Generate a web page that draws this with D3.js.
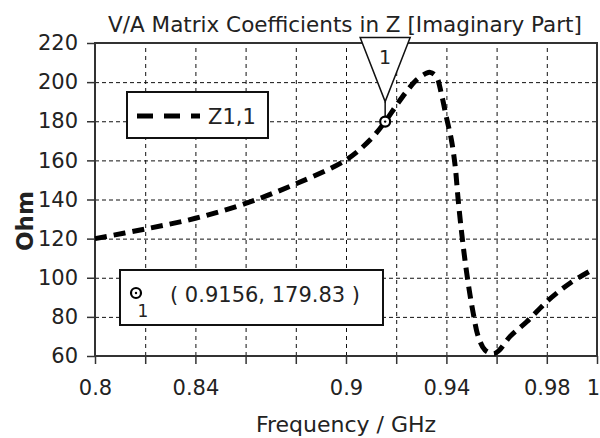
<!DOCTYPE html>
<html>
<head>
<meta charset="utf-8">
<script src="https://cdn.jsdelivr.net/npm/d3@7"></script>
<style>
  body { margin: 0; background: #fff; }
  svg { display: block; }
  text { font-family: "DejaVu Sans", Verdana, sans-serif; fill: #222; }
</style>
</head>
<body>
<div id="chart"></div>
<script>
// data
var freq = [0.8, 0.82, 0.84, 0.86, 0.88, 0.9, 0.91, 0.9156, 0.92, 0.924, 0.928, 0.932, 0.9335,
            0.936, 0.938, 0.940, 0.942, 0.9435, 0.9447, 0.9461, 0.9474, 0.9491, 0.9507, 0.9527,
            0.9554, 0.9587, 0.9607, 0.9653, 0.972, 0.98, 0.9892, 0.998];
var zImag = [120, 124.9, 130.4, 138, 148, 160.2, 171, 179.83, 188, 195, 201, 204.5, 205,
             202.8, 194, 182, 170.4, 157, 139.7, 122.7, 109, 93.7, 81.8, 69.9,
             63, 61.2, 62.5, 69.9, 77.5, 87.8, 97.2, 104];
var xGridTicks = [0.8, 0.82, 0.84, 0.86, 0.88, 0.9, 0.92, 0.94, 0.96, 0.98, 1.0];
var xLabelTicks = [0.8, 0.84, 0.9, 0.94, 0.98, 1];
var yTicks = [60, 80, 100, 120, 140, 160, 180, 200, 220];
var markerFreq = 0.9156;
var markerValue = 179.83;
var seriesName = "Z1,1";
var titleText = "V/A Matrix Coefficients in Z [Imaginary Part]";

var width = 600, height = 438;
var margin = {top: 43, right: 3, bottom: 82, left: 95};
var chartWidth = width - margin.left - margin.right;
var chartHeight = height - margin.top - margin.bottom;

var data = freq.map(function (f, i) { return {f: f, v: zImag[i]}; });

var svg = d3.select("#chart").append("svg")
    .attr("width", width)
    .attr("height", height);

var xScale = d3.scaleLinear().domain([0.8, 1.0]).range([0, chartWidth]);
var yScale = d3.scaleLinear().domain([60, 220]).range([chartHeight, 0]);

var viz = svg.append("g")
    .attr("transform", "translate(" + margin.left + "," + margin.top + ")");

// grid
var xGrid = d3.axisBottom(xScale).tickValues(xGridTicks).tickSize(-chartHeight).tickFormat("");
var yGrid = d3.axisLeft(yScale).tickValues(yTicks).tickSize(-chartWidth).tickFormat("");

viz.append("g").attr("transform", "translate(0," + chartHeight + ")").call(xGrid)
    .call(function (g) {
      g.select(".domain").remove();
      g.selectAll(".tick line").attr("stroke", "#111").attr("stroke-dasharray", "4,4");
    });
viz.append("g").call(yGrid)
    .call(function (g) {
      g.select(".domain").remove();
      g.selectAll(".tick line").attr("stroke", "#111").attr("stroke-dasharray", "4,3");
    });

// outer ticks
viz.append("g").attr("transform", "translate(0," + chartHeight + ")")
    .call(d3.axisBottom(xScale).tickValues(xGridTicks).tickSize(8).tickFormat(""))
    .call(function (g) {
      g.select(".domain").remove();
      g.selectAll(".tick line").attr("stroke", "#333").attr("stroke-width", 1.5);
    });
viz.append("g")
    .call(d3.axisLeft(yScale).tickValues(yTicks).tickSize(8).tickFormat(""))
    .call(function (g) {
      g.select(".domain").remove();
      g.selectAll(".tick line").attr("stroke", "#333").attr("stroke-width", 1.5);
    });

// tick labels
viz.append("g").attr("transform", "translate(0," + chartHeight + ")")
    .call(d3.axisBottom(xScale).tickValues(xLabelTicks).tickSize(0).tickPadding(24)
      .tickFormat(function (d) { return String(d); }))
    .call(function (g) {
      g.select(".domain").remove();
      g.selectAll(".tick text").attr("font-size", "21px").attr("fill", "#222")
        .attr("font-family", "DejaVu Sans, Verdana, sans-serif");
      // last label sits on the right edge, nudge it inside
      g.selectAll(".tick text").filter(function (d) { return d === 1; }).attr("dx", "-4");
    });
viz.append("g")
    .call(d3.axisLeft(yScale).tickValues(yTicks).tickSize(0).tickPadding(17)
      .tickFormat(function (d) { return String(d); }))
    .call(function (g) {
      g.select(".domain").remove();
      g.selectAll(".tick text").attr("font-size", "21px").attr("fill", "#222")
        .attr("font-family", "DejaVu Sans, Verdana, sans-serif");
    });

// frame
viz.append("rect")
    .attr("width", chartWidth)
    .attr("height", chartHeight)
    .attr("fill", "none")
    .attr("stroke", "#333")
    .attr("stroke-width", 2);

// curve
var line = d3.line()
    .x(function (d) { return xScale(d.f); })
    .y(function (d) { return yScale(d.v); })
    .curve(d3.curveCatmullRom.alpha(0.5));

viz.append("path")
    .datum(data)
    .attr("d", line)
    .attr("fill", "none")
    .attr("stroke", "#000")
    .attr("stroke-width", 5)
    .attr("stroke-dasharray", "12,7");

// marker on curve + triangle label
var mx = xScale(markerFreq), my = yScale(markerValue);
viz.append("line")
    .attr("x1", mx).attr("y1", my - 20).attr("x2", mx).attr("y2", my)
    .attr("stroke", "#111").attr("stroke-width", 1.5);
viz.append("path")
    .attr("d", "M" + (mx - 25) + "," + (my - 84) + "L" + (mx + 25) + "," + (my - 84) + "L" + mx + "," + (my - 20) + "Z")
    .attr("fill", "#fff").attr("stroke", "#111").attr("stroke-width", 1.5);
viz.append("text")
    .attr("x", mx).attr("y", my - 58)
    .attr("text-anchor", "middle")
    .attr("font-size", "19px")
    .text("1");
viz.append("circle")
    .attr("cx", mx).attr("cy", my).attr("r", 5)
    .attr("fill", "#fff").attr("stroke", "#000").attr("stroke-width", 2.2);
viz.append("circle")
    .attr("cx", mx).attr("cy", my).attr("r", 1.2).attr("fill", "#000");

// legend
var legend = svg.append("g").attr("transform", "translate(127,92)");
legend.append("rect")
    .attr("width", 141).attr("height", 46)
    .attr("fill", "#fff").attr("stroke", "#111").attr("stroke-width", 2);
legend.append("line")
    .attr("x1", 10).attr("x2", 73).attr("y1", 24).attr("y2", 24)
    .attr("stroke", "#000").attr("stroke-width", 5).attr("stroke-dasharray", "16,11");
legend.append("text")
    .attr("x", 81).attr("y", 32)
    .attr("font-size", "21px")
    .text(seriesName);

// marker readout box
var readout = svg.append("g").attr("transform", "translate(120,270)");
readout.append("rect")
    .attr("width", 263).attr("height", 55)
    .attr("fill", "#fff").attr("stroke", "#111").attr("stroke-width", 2);
readout.append("circle")
    .attr("cx", 16).attr("cy", 23).attr("r", 5)
    .attr("fill", "#fff").attr("stroke", "#000").attr("stroke-width", 2.2);
readout.append("circle")
    .attr("cx", 16).attr("cy", 23).attr("r", 1.2).attr("fill", "#000");
readout.append("text")
    .attr("x", 23).attr("y", 47)
    .attr("text-anchor", "middle")
    .attr("font-size", "17px")
    .text("1");
readout.append("text")
    .attr("x", 50).attr("y", 32)
    .attr("font-size", "21px")
    .text("( " + markerFreq + ", " + markerValue + " )");

// title and axis labels
svg.append("text")
    .attr("x", 345).attr("y", 32)
    .attr("text-anchor", "middle")
    .attr("font-size", "21.5px")
    .text(titleText);

svg.append("text")
    .attr("x", 346).attr("y", 432)
    .attr("text-anchor", "middle")
    .attr("font-size", "22px")
    .text("Frequency / GHz");

svg.append("text")
    .attr("transform", "translate(33,221) rotate(-90)")
    .attr("text-anchor", "middle")
    .attr("font-size", "23px")
    .attr("font-weight", "bold")
    .text("Ohm");
</script>
</body>
</html>
